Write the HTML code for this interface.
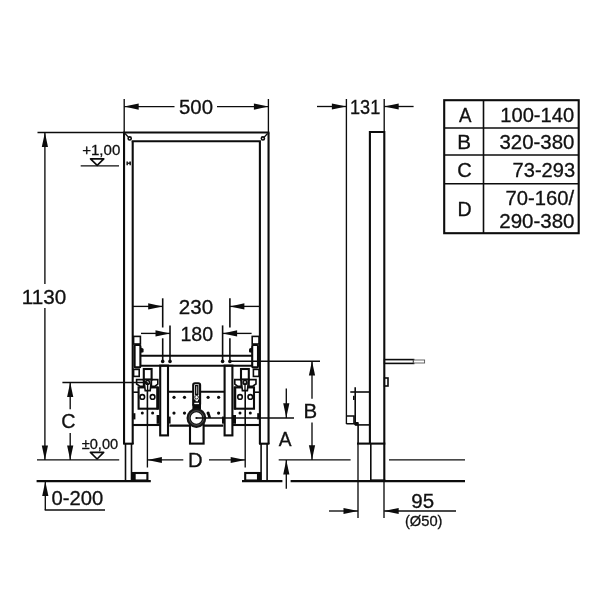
<!DOCTYPE html>
<html><head><meta charset="utf-8">
<style>
html,body{margin:0;padding:0;background:#fff;}
body{width:600px;height:600px;overflow:hidden;}
svg{display:block;}
text{font-family:"Liberation Sans",sans-serif;fill:#111;stroke:#111;stroke-width:0.3;}
.t{stroke:#0c0c0c;stroke-width:1.35;fill:none;}
.m{stroke:#0c0c0c;stroke-width:1.6;fill:none;}
.k{stroke:#0c0c0c;stroke-width:2.1;fill:none;}
.w{fill:#fff;}
.b{fill:#0c0c0c;stroke:none;}
</style></head>
<body>
<svg width="600" height="600" viewBox="0 0 600 600">
<rect width="600" height="600" fill="#fff"/>
<defs>
<!-- arrow heads: tip at 0,0 -->
<path id="aR" d="M0,0 L-14.5,-3.1 L-14.5,3.1 Z"/>
<path id="aL" d="M0,0 L14.5,-3.1 L14.5,3.1 Z"/>
<path id="aU" d="M0,0 L-3.1,14.5 L3.1,14.5 Z"/>
<path id="aD" d="M0,0 L-3.1,-14.5 L3.1,-14.5 Z"/>

<g id="half">
  <!-- posts -->
  <line class="k" x1="124.05" y1="132.5" x2="124.05" y2="444"/>
  <line class="k" x1="132.7" y1="141.3" x2="132.7" y2="444"/>
  <line class="k" x1="123.2" y1="443.7" x2="133.6" y2="443.7"/>
  <line class="m" x1="125.5" y1="444" x2="125.5" y2="480.5" stroke-width="1.9"/>
  <line class="m" x1="131.5" y1="444" x2="131.5" y2="480.5" stroke-width="1.9"/>
  <!-- foot -->
  <rect class="k" x="134.6" y="473" width="12.8" height="7.5" fill="#fff"/>
  <rect class="b" x="131.5" y="472" width="3.6" height="9"/>
  <!-- corner hole -->
  <circle cx="129.7" cy="138.4" r="1.55" class="m" stroke-width="1.8"/>
  <line class="t" x1="128.4" y1="137.1" x2="125" y2="133.5" stroke-width="1.1"/>
  <!-- bracket -->
  <rect class="m w" x="133.6" y="336.4" width="6.8" height="7.6"/>
  <rect class="k w" x="134.6" y="345" width="5.8" height="22.4" rx="1.2"/>
  <path class="b" d="M140.6,347.6 L142.6,348.2 Q143.6,348.6 143.6,349.6 L143.6,351.4 Q143.6,352.4 142.6,352.6 L140.6,352.8 Z"/>
  <rect class="m w" x="133.6" y="369.4" width="5.6" height="7"/>
  <!-- side plate -->
  <line class="m" x1="133.2" y1="392.2" x2="138.6" y2="392.2"/>
  <rect class="b" x="133.2" y="413.2" width="2.2" height="6.2"/>
  <!-- strut -->
  <rect class="k w" x="160.2" y="365.6" width="7.8" height="69.8"/>
  <!-- clamp wings -->
  <path class="m" fill="#e4e4e4" d="M136.6,379.6 H143.6 V386.4 H140.2 L136.6,384 Z"/>
  <path class="m" fill="#e4e4e4" d="M151.4,379.6 H157.8 V384 L154.8,386.4 H151.4 Z"/>
  <!-- clamp body -->
  <rect class="k" x="138.6" y="387.4" width="18.8" height="21.3"/>
  <rect class="b" x="156.6" y="386.6" width="2.4" height="23"/>
  <line class="m" x1="147.4" y1="390" x2="147.4" y2="425"/>
  <!-- screw head -->
  <rect class="k w" x="143.8" y="369" width="7.8" height="10.6"/>
  <path class="m w" d="M144,379.6 L151.4,379.6 L150.2,390.6 L145.2,390.6 Z"/>
  <circle class="m w" cx="147.6" cy="382.4" r="1.9" stroke-width="1.2"/>
  <line class="t" x1="147.6" y1="382.4" x2="147.6" y2="390"/>
  <circle class="m w" cx="142.3" cy="396.9" r="2.3"/>
  <circle class="m w" cx="152.6" cy="396.9" r="2.3"/>
  <circle class="b" cx="142.3" cy="413.1" r="1.5"/>
  <circle class="b" cx="152.6" cy="413.1" r="1.5"/>
  <rect class="b" x="156.6" y="415" width="3" height="8.8"/>
  <!-- bottom plate of clamp -->
  <line class="k" x1="132.6" y1="425" x2="160.2" y2="425"/>
  <!-- crossbar dots -->
  <circle class="b" cx="162.7" cy="361.4" r="1.8"/>
  <circle class="b" cx="170" cy="361.4" r="1.8"/>
  <!-- plate dots -->
  <circle class="b" cx="174" cy="397.3" r="1.6"/>
  <circle class="b" cx="184.5" cy="397.3" r="1.6"/>
  <circle class="b" cx="174" cy="413.1" r="1.6"/>
  <circle class="b" cx="184.5" cy="413.1" r="1.6"/>
  <rect class="b" x="168" y="416.6" width="2.6" height="7"/>
</g>
</defs>

<!-- ===== FRONT VIEW ===== -->
<line class="k" x1="123.2" y1="132.5" x2="269.4" y2="132.5"/>
<line class="k" x1="131.7" y1="141.3" x2="260.9" y2="141.3"/>
<use href="#half"/>
<use href="#half" transform="translate(392.6,0) scale(-1,1)"/>
<!-- small detail on left post -->
<path d="M126.4,161.6 h1.6 v1 h1.2 v-1 h1.8 v3.6 h-1.6 v-1.2 h-1.4 v1.2 h-1.6 Z" fill="#222"/>
<!-- crossbar -->
<line class="k" x1="140.6" y1="355.8" x2="252" y2="355.8"/>
<line class="k" x1="140.6" y1="365.7" x2="252" y2="365.7"/>
<!-- center plate -->
<line class="k" x1="168" y1="391.7" x2="224.6" y2="391.7" stroke-width="2.2"/>
<line class="k" x1="169.4" y1="425.6" x2="223.2" y2="425.6" stroke-width="2.2"/>
<!-- drain pipe -->
<rect class="k w" x="190" y="424" width="13.6" height="19.6" stroke-width="2.2"/>
<!-- valve -->
<rect class="k w" x="193.2" y="383.3" width="6.9" height="22.6" rx="1.8" stroke-width="1.9"/>
<rect class="t" x="195.7" y="385.6" width="2.1" height="8.8" stroke-width="0.9"/>
<path class="b" d="M194,399.4 h1.6 v1.8 h2.4 v-1.8 h1.6 v3.4 h-5.6 Z"/>
<rect class="b" x="192.4" y="404.2" width="8.6" height="5"/>
<circle class="w" cx="196.6" cy="397.2" r="1.8" stroke="#111" stroke-width="0.9"/>
<!-- big circle -->
<circle cx="196.4" cy="418" r="7.8" fill="#fff" stroke="#151515" stroke-width="4.2"/>
<circle cx="196.4" cy="418" r="7.3" fill="none" stroke="#555" stroke-width="0.9"/>
<circle class="b" cx="196.4" cy="418" r="1.1"/>
<path class="b" d="M207,413.6 L209.8,413.6 L211.2,418 L208.4,418 Z"/>

<!-- ===== DIMENSIONS (front) ===== -->
<!-- 500 -->
<line class="t" x1="124.2" y1="99" x2="124.2" y2="132"/>
<line class="t" x1="268.4" y1="99" x2="268.4" y2="132"/>
<line class="t" x1="124.2" y1="106.6" x2="174.5" y2="106.6"/>
<line class="t" x1="217" y1="106.6" x2="268.4" y2="106.6"/>
<use href="#aL" class="b" x="124.2" y="106.6"/>
<use href="#aR" class="b" x="268.4" y="106.6"/>

<!-- 1130 -->
<line class="t" x1="37.5" y1="132.5" x2="124" y2="132.5"/>
<line class="t" x1="44.9" y1="132.5" x2="44.9" y2="284"/>
<line class="t" x1="44.9" y1="308" x2="44.9" y2="460"/>
<use href="#aU" class="b" x="44.9" y="132.5"/>
<use href="#aD" class="b" x="44.9" y="460"/>

<!-- +1,00 -->
<path class="m" d="M90.5,158.9 L103.8,158.9 L97.2,165.4 Z" stroke-width="2.2" stroke-linejoin="round"/>
<line class="t" x1="80.7" y1="165.9" x2="119" y2="165.9" stroke-width="1.5"/>

<!-- ±0,00 -->
<path class="m" d="M90.4,452.4 L103.7,452.4 L97.1,459 Z" stroke-width="2.2" stroke-linejoin="round"/>
<line class="t" x1="37" y1="459.8" x2="119.2" y2="459.8" stroke-width="1.5"/>

<!-- floor line -->
<line class="k" x1="36.6" y1="481.15" x2="150.8" y2="481.15"/>
<line class="k" x1="242" y1="481.15" x2="282.4" y2="481.15"/>
<line class="k" x1="290.6" y1="481.15" x2="465" y2="481.15"/>

<!-- 0-200 -->
<line class="t" x1="45.3" y1="482" x2="45.3" y2="510"/>
<line class="t" x1="44.7" y1="510" x2="105" y2="510"/>
<use href="#aU" class="b" x="45.3" y="481.6"/>

<!-- C -->
<line class="t" x1="62.4" y1="382.5" x2="147.4" y2="382.5"/>
<line class="t" x1="70.2" y1="382.5" x2="70.2" y2="409.2"/>
<line class="t" x1="70.2" y1="433" x2="70.2" y2="460"/>
<use href="#aU" class="b" x="70.2" y="382.5"/>
<use href="#aD" class="b" x="70.2" y="460"/>

<!-- 230 -->
<line class="m" x1="162.7" y1="298.3" x2="162.7" y2="327.5"/>
<line class="m" x1="162.7" y1="338.3" x2="162.7" y2="361"/>
<line class="m" x1="229.9" y1="298.3" x2="229.9" y2="327.5"/>
<line class="m" x1="229.9" y1="338.3" x2="229.9" y2="361"/>
<line class="t" x1="133" y1="306.4" x2="162.7" y2="306.4"/>
<line class="t" x1="229.9" y1="306.4" x2="259.6" y2="306.4"/>
<use href="#aR" class="b" x="162.7" y="306.4"/>
<use href="#aL" class="b" x="229.9" y="306.4"/>
<!-- 180 -->
<line class="m" x1="170" y1="325.4" x2="170" y2="361"/>
<line class="m" x1="222.6" y1="325.4" x2="222.6" y2="361"/>
<line class="t" x1="141" y1="333.4" x2="170" y2="333.4"/>
<line class="t" x1="222.6" y1="333.4" x2="251.6" y2="333.4"/>
<use href="#aR" class="b" x="170" y="333.4"/>
<use href="#aL" class="b" x="222.6" y="333.4"/>

<!-- D -->
<line class="t" x1="147.4" y1="425" x2="147.4" y2="467.5"/>
<line class="t" x1="245.2" y1="425" x2="245.2" y2="467.5"/>
<line class="t" x1="147.4" y1="459.9" x2="183.3" y2="459.9"/>
<line class="t" x1="209" y1="459.9" x2="245.2" y2="459.9"/>
<use href="#aL" class="b" x="147.4" y="460"/>
<use href="#aR" class="b" x="245.2" y="460"/>

<!-- B -->
<line class="t" x1="229.9" y1="361.2" x2="320" y2="361.2"/>
<line class="t" x1="312" y1="361" x2="312" y2="398.7"/>
<line class="t" x1="312" y1="422.4" x2="312" y2="460"/>
<use href="#aU" class="b" x="312" y="361"/>
<use href="#aD" class="b" x="312" y="459.8"/>

<!-- A -->
<line class="t" x1="196.4" y1="418" x2="294" y2="418" stroke-width="1.3"/>
<line class="t" x1="286.3" y1="388.6" x2="286.3" y2="418"/>
<use href="#aD" class="b" x="286.3" y="417.8"/>
<line class="t" x1="286.3" y1="460" x2="286.3" y2="488.8"/>
<use href="#aU" class="b" x="286.3" y="460"/>
<line class="t" x1="278.7" y1="459.8" x2="350.6" y2="459.8" stroke-width="1.5"/>
<line class="t" x1="389" y1="459.8" x2="465" y2="459.8" stroke-width="1.5"/>

<!-- ===== SIDE VIEW ===== -->
<line class="t" x1="346.4" y1="99" x2="346.4" y2="424"/>
<line class="t" x1="384.2" y1="99" x2="384.2" y2="132"/>
<line class="t" x1="317" y1="106.5" x2="346.4" y2="106.5"/>
<line class="t" x1="384.2" y1="106.5" x2="413.6" y2="106.5"/>
<use href="#aR" class="b" x="346.4" y="106.5"/>
<use href="#aL" class="b" x="384.2" y="106.5"/>
<!-- post -->
<path class="k" d="M369.9,444 L369.9,132 L384.3,132 L384.3,481" stroke-width="2.1"/>
<!-- rod -->
<rect class="m w" x="384.6" y="359.6" width="29" height="3.8"/>
<rect x="413.6" y="360" width="11" height="3" fill="#fff" stroke="#555" stroke-width="0.9"/>
<!-- small box right -->
<rect class="m w" x="384.6" y="378" width="3.4" height="8"/>
<!-- left box -->
<path class="m" d="M346.4,416 L354,416 L354,423.8 L346.4,423.8" stroke-width="1.4"/>
<rect class="b" x="354.4" y="422" width="4.4" height="3.6" rx="1"/>
<line class="m" x1="350.3" y1="392" x2="369.9" y2="392" stroke-width="1.6"/>
<line class="m" x1="355.2" y1="387.2" x2="355.2" y2="425" stroke-width="1.6"/>
<rect class="b" x="353" y="395.8" width="1.6" height="4.2"/>
<line class="m" x1="355.2" y1="424.9" x2="369.9" y2="424.9" stroke-width="1.6"/>
<line class="m" x1="358.1" y1="425" x2="358.1" y2="444" stroke-width="1.7"/>
<line class="k" x1="357" y1="443.6" x2="385.3" y2="443.6" stroke-width="2.1"/>
<line class="t" x1="358" y1="444" x2="358" y2="518"/>
<line class="m" x1="370.8" y1="444" x2="370.8" y2="481" stroke-width="1.6"/>
<line class="k" x1="370" y1="480.4" x2="385.3" y2="480.4"/>
<line class="t" x1="384" y1="481" x2="384" y2="518"/>
<!-- 95 -->
<line class="t" x1="329" y1="511" x2="358" y2="511"/>
<line class="t" x1="384.2" y1="511" x2="456" y2="511"/>
<use href="#aR" class="b" x="358" y="511"/>
<use href="#aL" class="b" x="384.2" y="511"/>

<!-- ===== TABLE ===== -->
<rect class="k" x="444.2" y="100.2" width="134.5" height="133" stroke-width="2.4"/>
<line class="m" x1="483.5" y1="100.2" x2="483.5" y2="233" stroke-width="1.35"/>
<line class="m" x1="444" y1="128" x2="578.4" y2="128" stroke-width="1.35"/>
<line class="m" x1="444" y1="155" x2="578.4" y2="155" stroke-width="1.35"/>
<line class="m" x1="444" y1="183.7" x2="578.4" y2="183.7" stroke-width="1.35"/>
<g opacity="0.999">
<text transform="translate(178.98,113.50) scale(1.0350,1)" font-size="19.70">500</text>
<text transform="translate(21.73,303.60) scale(1.0502,1)" font-size="19.70">1130</text>
<text transform="translate(82.16,155.40) scale(1.0350,1)" font-size="14.60">+1,00</text>
<text transform="translate(81.73,448.60) scale(1.0003,1)" font-size="14.60">±0,00</text>
<text transform="translate(51.41,505.20) scale(1.0279,1)" font-size="19.70">0-200</text>
<text transform="translate(61.29,428.20) scale(1.0024,1)" font-size="19.70">C</text>
<text transform="translate(178.87,313.50) scale(1.0448,1)" font-size="19.70">230</text>
<text transform="translate(180.41,340.60) scale(0.9969,1)" font-size="19.70">180</text>
<text transform="translate(187.94,467.30) scale(1.0289,1)" font-size="19.70">D</text>
<text transform="translate(303.62,417.50) scale(1.0400,1)" font-size="19.70">B</text>
<text transform="translate(278.76,445.60) scale(0.9724,1)" font-size="19.70">A</text>
<text transform="translate(350.02,113.60) scale(0.9211,1)" font-size="19.70">131</text>
<text transform="translate(411.24,507.60) scale(1.0420,1)" font-size="19.70">95</text>
<text transform="translate(404.89,525.80) scale(1.0082,1)" font-size="14.60">(Ø50)</text>
<text transform="translate(459.06,121.70) scale(0.9494,1)" font-size="19.70">A</text>
<text transform="translate(457.20,148.70) scale(1.0496,1)" font-size="19.70">B</text>
<text transform="translate(457.28,177.00) scale(1.0184,1)" font-size="19.70">C</text>
<text transform="translate(457.59,216.40) scale(0.9946,1)" font-size="19.70">D</text>
<text transform="translate(500.27,121.70) scale(1.0224,1)" font-size="19.70">100-140</text>
<text transform="translate(499.52,148.70) scale(1.0370,1)" font-size="19.70">320-380</text>
<text transform="translate(512.58,176.70) scale(1.0189,1)" font-size="19.70">73-293</text>
<text transform="translate(505.57,204.90) scale(1.0271,1)" font-size="19.70">70-160/</text>
<text transform="translate(499.28,227.60) scale(1.0405,1)" font-size="19.70">290-380</text>
</g>
</svg>
</body></html>
